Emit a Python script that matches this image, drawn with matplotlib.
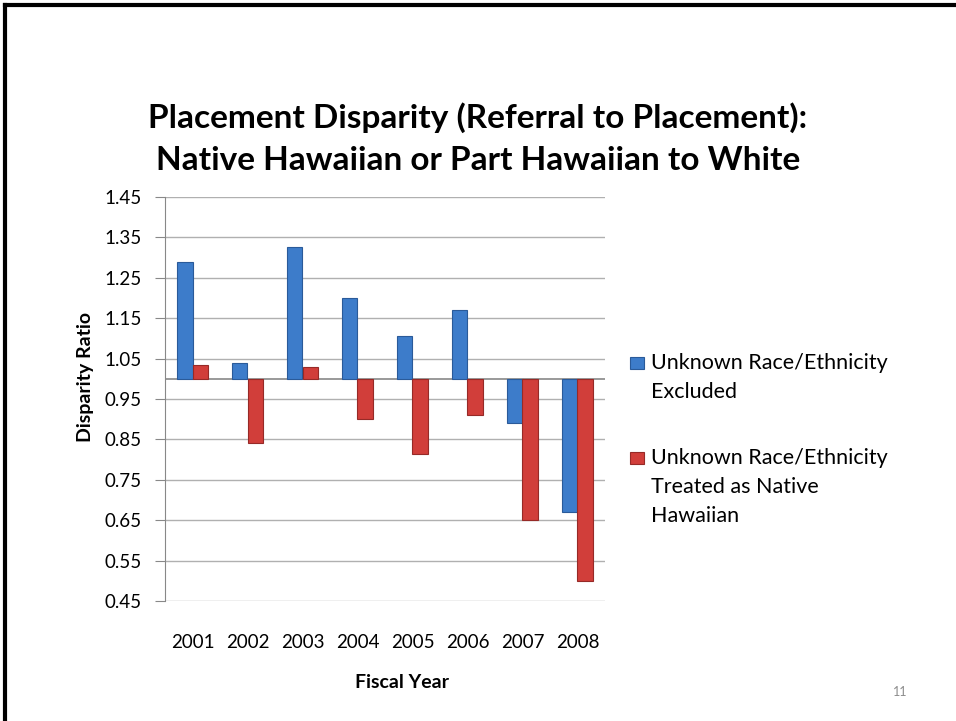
import numpy as np
import matplotlib.pyplot as plt
from matplotlib.lines import Line2D
from matplotlib.patches import Rectangle

plt.rcParams['font.family'] = ['Lato', 'DejaVu Sans']

# data (bars hang from a baseline of 1.0)
years = ['2001', '2002', '2003', '2004', '2005', '2006', '2007', '2008']
excluded = [1.29, 1.04, 1.325, 1.20, 1.105, 1.17, 0.89, 0.67]
treated_nh = [1.035, 0.84, 1.03, 0.90, 0.815, 0.91, 0.65, 0.50]
yticks = [0.45, 0.55, 0.65, 0.75, 0.85, 0.95, 1.05, 1.15, 1.25, 1.35, 1.45]
legend_labels = [['Unknown Race/Ethnicity', 'Excluded'],
                 ['Unknown Race/Ethnicity', 'Treated as Native', 'Hawaiian']]

blue, blue_edge = '#3d7cca', '#2a5a99'
red, red_edge = '#d13e3a', '#962a27'

W, H = 956, 721
fig = plt.figure(figsize=(W/100, H/100), dpi=100)
ax = fig.add_axes([165/W, 1-601/H, 440/W, 404/H])

x = np.arange(len(years))
w = 0.29
base = 1.0
ax.bar(x - w/2, np.array(excluded) - base, w, bottom=base,
       color=blue, edgecolor=blue_edge, linewidth=0.8, zorder=3)
ax.bar(x + w/2, np.array(treated_nh) - base, w, bottom=base,
       color=red, edgecolor=red_edge, linewidth=0.8, zorder=3)

ax.set_xlim(-0.5, len(years) - 0.5)
ax.set_ylim(0.45, 1.45)
ax.set_yticks(yticks)
ax.set_yticklabels(['%.2f' % v for v in yticks], fontsize=13.5)
ax.set_xticks(x)
ax.set_xticklabels(years, fontsize=13.5)
ax.tick_params(axis='x', length=0, pad=24)
ax.tick_params(axis='y', length=7, color='#888888', pad=10, direction='out')
ax.grid(axis='y', color='#b0b0b0', linewidth=1.0, zorder=0)
ax.axhline(base, color='#888888', linewidth=1.2, zorder=2)
for s in ['top', 'right', 'bottom']:
    ax.spines[s].set_visible(False)
ax.spines['left'].set_color('#888888')

# axis titles
fig.text(85/W, 1-377/H, 'Disparity Ratio', rotation=90, fontsize=14,
         fontweight='bold', ha='center', va='center')
fig.text(402/W, 1-683/H, 'Fiscal Year', fontsize=14, fontweight='bold',
         ha='center', va='center')

# title
fig.text(478/W, 1-118/H, 'Placement Disparity (Referral to Placement):',
         ha='center', va='center', fontsize=24, fontweight='bold')
fig.text(478/W, 1-161/H, 'Native Hawaiian or Part Hawaiian to White',
         ha='center', va='center', fontsize=24, fontweight='bold')

# legend
entry_y = [363, 458]
for (fc, ec), lines, y0 in zip([(blue, blue_edge), (red, red_edge)], legend_labels, entry_y):
    fig.add_artist(Rectangle((630/W, 1-(y0+6)/H), 14/W, 12/H, facecolor=fc,
                             edgecolor=ec, linewidth=0.8, transform=fig.transFigure))
    for i, line in enumerate(lines):
        fig.text(651/W, 1-(y0 + 29*i)/H, line, fontsize=15.5, ha='left', va='center')

fig.text(900/W, 1-692/H, '11', fontsize=9, color='#8c8c8c', ha='center', va='center')

# slide frame
fig.add_artist(Line2D([5/W, 1], [1-5/H, 1-5/H], color='black', linewidth=3))
fig.add_artist(Line2D([5/W, 5/W], [0, 1-5/H], color='black', linewidth=3))

fig.savefig('out.png', dpi=100)
